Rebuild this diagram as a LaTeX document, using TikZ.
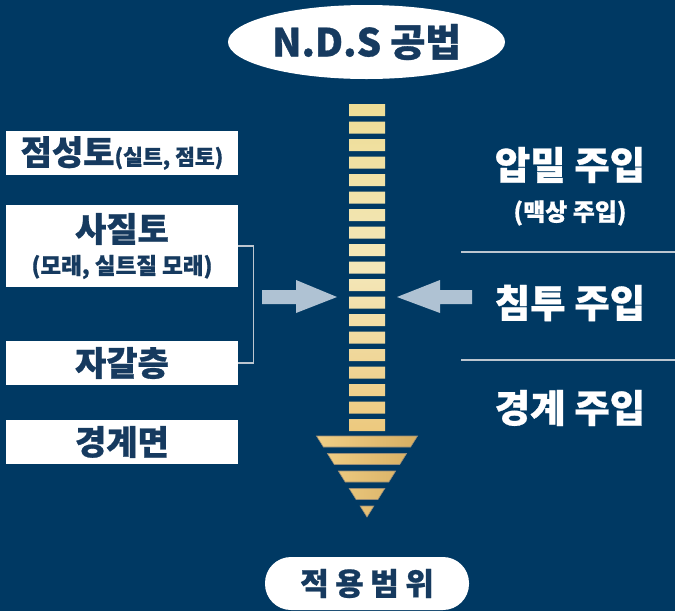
\documentclass[tikz,border=0pt]{standalone}
\usepackage{fontspec}
\usetikzlibrary{shapes.geometric}
\IfFontExistsTF{Noto Sans CJK KR Black}{\newfontfamily\krb{Noto Sans CJK KR Black}[FakeBold=0.8]}{\newfontfamily\krb{Noto Sans CJK KR Bold}[FakeBold=2]}
\definecolor{bgnavy}{HTML}{003963}
\definecolor{darktxt}{HTML}{163A5F}
\definecolor{arrowc}{HTML}{AFC2D3}
\definecolor{linec}{HTML}{BCC6D0}
\definecolor{goldA}{HTML}{EEDD96}
\definecolor{goldB}{HTML}{EDC97E}
\definecolor{goldC}{HTML}{F1CF86}
\definecolor{goldD}{HTML}{D6AE62}
\tikzset{
  lbox/.style={fill=white, minimum width=232pt, inner sep=0pt, text=darktxt, font=\krb\fontsize{34}{34}\selectfont},
  big/.style={text=darktxt, inner sep=0pt, font=\krb\fontsize{34}{34}\selectfont},
  small/.style={text=darktxt, inner sep=0pt, font=\krb\fontsize{22.5}{22.5}\selectfont},
  rbig/.style={text=white, inner sep=0pt, font=\krb\fontsize{38.5}{38.5}\selectfont},
  rsmall/.style={text=white, inner sep=0pt, font=\krb\fontsize{24}{24}\selectfont},
  sep/.style={draw=linec, line width=1.5pt},
  bracket/.style={draw=linec, line width=1.3pt},
  push/.style={fill=arrowc},
  band/.style={draw=gray!70!goldD, line width=0.6pt}
}
\begin{document}
\begin{tikzpicture}[x=1pt,y=-1pt]
\useasboundingbox (0,0) rectangle (675,611);
\fill[bgnavy] (0,0) rectangle (675,611);

% title
\node[ellipse, fill=white, minimum width=277pt, minimum height=74pt, inner sep=0pt,
      text=darktxt, font=\krb\fontsize{38.5}{38.5}\selectfont] (title) at (366.5,42) {N.D.S 공법};

% left boxes
\node[lbox, minimum height=44pt] (b1) at (122,153) {\fontsize{34}{34}\selectfont 점성토\fontsize{21.5}{21.5}\selectfont(실트, 점토)};
\node[lbox, minimum height=82pt] (b2) at (122,246) {};
\node[big] (b2t) at (122,229) {사질토};
\node[small] (b2s) at (122,267) {(모래, 실트질 모래)};
\node[lbox, minimum height=44pt] (b3) at (122,363) {자갈층};
\node[lbox, minimum height=44pt] (b4) at (122,442) {경계면};

\draw[bracket] (b2.east) -- ++(15,0) |- (b3.east);

% push arrows
\fill[push] (262,290) -- (296,290) -- (296,280) -- (337,297) -- (296,313) -- (296,304) -- (262,304) -- cycle;
\fill[push] (472,290) -- (440,290) -- (440,280) -- (397,297) -- (440,313) -- (440,304) -- (472,304) -- cycle;

% bars
\shade[top color=goldA, bottom color=goldB, middle color=goldA!60!white!90!goldB]
  \foreach \i in {0,...,18} { (349,104+17.5*\i) rectangle (385,116+17.5*\i) };

% trapezoids
\shade[band, left color=goldC, right color=goldD]
  (316.5,436) -- (417.5,436) -- (410.6,447) -- (323.4,447) -- cycle
  (327.4,453.5) -- (406.6,453.5) -- (399.7,464.5) -- (334.3,464.5) -- cycle
  (338.3,471) -- (395.7,471) -- (388.8,482) -- (345.2,482) -- cycle
  (349.2,488.5) -- (384.8,488.5) -- (377.9,499.5) -- (356.1,499.5) -- cycle
  (360.1,506) -- (373.9,506) -- (367,517) -- cycle;

% right side
\node[rbig] (r1) at (570,165) {압밀 주입};
\node[rsmall] (r1s) at (570,213) {(맥상 주입)};
\coordinate (l1a) at (461,252);
\coordinate (l1b) at (675,252);
\draw[sep] (l1a) -- (l1b);
\node[rbig] (r2) at (570,303) {침투 주입};
\coordinate (l2a) at (461,360);
\coordinate (l2b) at (675,360);
\draw[sep] (l2a) -- (l2b);
\node[rbig] (r3) at (570,408) {경계 주입};

% bottom pill
\node[fill=white, rounded corners=26pt, minimum width=204pt, minimum height=53pt, inner sep=0pt,
      text=darktxt, font=\krb\fontsize{31}{31}\selectfont] (scope) at (367,583.5)
  {적\hspace{6.5pt}용\hspace{6.5pt}범\hspace{6.5pt}위};
\end{tikzpicture}
\end{document}
